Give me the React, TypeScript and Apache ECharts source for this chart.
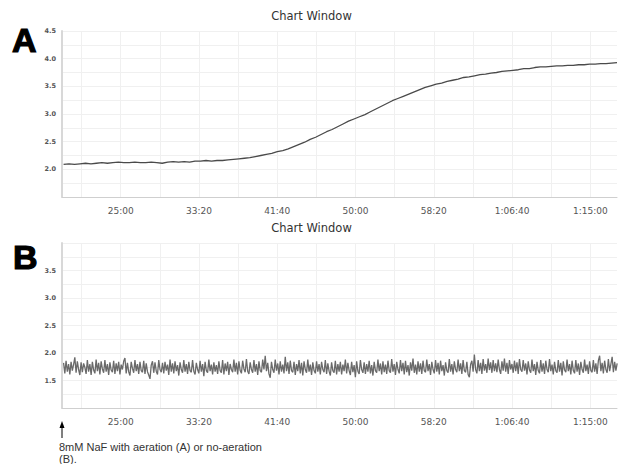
import React, { useEffect, useRef } from "react";
import * as echarts from "echarts";

const TITLE = "Chart Window";
const PANEL_LETTERS = ["A", "B"];
const NOTE_LINES = ["8mM NaF with aeration (A) or no-aeration", "(B)."];

const X_MIN = 1125;
const X_MAX = 4670;
const xGridTicks = [1250, 1500, 1750, 2000, 2250, 2500, 2750, 3000, 3250, 3500, 3750, 4000, 4250, 4500];
const xLabelTicks = [1500, 2000, 2500, 3000, 3500, 4000, 4500];

const yRangeA = [1.5, 4.5];
const yRangeB = [1.0, 4.0];
const yGridTicksA = [1.5, 1.75, 2.0, 2.25, 2.5, 2.75, 3.0, 3.25, 3.5, 3.75, 4.0, 4.25, 4.5];
const yGridTicksB = [1.0, 1.25, 1.5, 1.75, 2.0, 2.25, 2.5, 2.75, 3.0, 3.25, 3.5, 3.75, 4.0];
const yLabelTicksA = [2.0, 2.5, 3.0, 3.5, 4.0, 4.5];
const yLabelTicksB = [1.5, 2.0, 2.5, 3.0, 3.5];

// sampling grid (seconds)
const SAMPLE_START_A = 1135;
const SAMPLE_STEP_A = 35;
const SAMPLE_START_B = 1135;
const SAMPLE_STEP_B = 8;

const valuesA = [
  2.09, 2.10, 2.09, 2.10, 2.11, 2.10, 2.11, 2.12, 2.11, 2.12,
  2.13, 2.12, 2.12, 2.13, 2.12, 2.12, 2.13, 2.12, 2.11, 2.13,
  2.14, 2.13, 2.14, 2.13, 2.15, 2.15, 2.16, 2.15, 2.16, 2.16,
  2.17, 2.18, 2.19, 2.20, 2.21, 2.23, 2.25, 2.27, 2.29, 2.32,
  2.34, 2.37, 2.41, 2.45, 2.49, 2.54, 2.58, 2.63, 2.68, 2.72,
  2.77, 2.82, 2.87, 2.91, 2.95, 2.99, 3.04, 3.09, 3.14, 3.19,
  3.24, 3.28, 3.32, 3.36, 3.40, 3.44, 3.48, 3.51, 3.54, 3.56,
  3.59, 3.61, 3.63, 3.66, 3.67, 3.69, 3.71, 3.72, 3.74, 3.75,
  3.77, 3.78, 3.79, 3.80, 3.82, 3.82, 3.84, 3.85, 3.85, 3.86,
  3.87, 3.87, 3.88, 3.88, 3.89, 3.89, 3.90, 3.90, 3.91, 3.91,
  3.92, 3.93,
];

const valuesB = [
  1.82, 1.63, 1.86, 1.66, 1.80, 1.61, 1.84, 1.68, 1.79, 1.92, 1.64, 1.85, 1.70, 1.60, 1.83, 1.65, 1.81, 1.74, 1.62, 1.87,
  1.66, 1.80, 1.60, 1.84, 1.69, 1.63, 1.88, 1.67, 1.82, 1.61, 1.85, 1.71, 1.64, 1.87, 1.66, 1.80, 1.60, 1.83, 1.69, 1.65,
  1.86, 1.62, 1.81, 1.67, 1.84, 1.61, 1.79, 1.70, 1.85, 1.91, 1.63, 1.82, 1.66, 1.59, 1.84, 1.72, 1.64, 1.87, 1.67, 1.80,
  1.62, 1.84, 1.68, 1.65, 1.86, 1.62, 1.81, 1.66, 1.60, 1.53, 1.78, 1.85, 1.64, 1.83, 1.67, 1.61, 1.87, 1.70, 1.65, 1.82,
  1.63, 1.84, 1.68, 1.79, 1.60, 1.88, 1.66, 1.81, 1.63, 1.85, 1.67, 1.78, 1.59, 1.83, 1.70, 1.64, 1.87, 1.66, 1.80, 1.62,
  1.84, 1.68, 1.65, 1.87, 1.67, 1.61, 1.82, 1.70, 1.63, 1.86, 1.66, 1.80, 1.58, 1.84, 1.68, 1.64, 1.88, 1.67, 1.79, 1.61,
  1.83, 1.66, 1.78, 1.62, 1.85, 1.68, 1.64, 1.87, 1.61, 1.81, 1.67, 1.84, 1.60, 1.80, 1.70, 1.65, 1.88, 1.66, 1.82, 1.61,
  1.85, 1.68, 1.63, 1.86, 1.71, 1.65, 1.89, 1.67, 1.62, 1.83, 1.70, 1.64, 1.87, 1.66, 1.80, 1.60, 1.85, 1.68, 1.65, 1.88,
  1.70, 1.95, 1.67, 1.82, 1.62, 1.55, 1.84, 1.70, 1.64, 1.88, 1.68, 1.81, 1.61, 1.85, 1.66, 1.79, 1.63, 1.93, 1.67, 1.83,
  1.62, 1.86, 1.68, 1.65, 1.84, 1.60, 1.80, 1.67, 1.87, 1.63, 1.82, 1.59, 1.85, 1.70, 1.64, 1.88, 1.66, 1.79, 1.60, 1.83,
  1.68, 1.63, 1.85, 1.66, 1.80, 1.61, 1.84, 1.70, 1.65, 1.87, 1.62, 1.81, 1.67, 1.59, 1.83, 1.68, 1.64, 1.86, 1.61, 1.80,
  1.66, 1.84, 1.61, 1.79, 1.67, 1.88, 1.63, 1.82, 1.68, 1.60, 1.84, 1.65, 1.78, 1.56, 1.85, 1.67, 1.62, 1.87, 1.70, 1.64,
  1.83, 1.62, 1.80, 1.66, 1.86, 1.63, 1.78, 1.59, 1.84, 1.68, 1.64, 1.88, 1.67, 1.81, 1.61, 1.85, 1.65, 1.79, 1.62, 1.86,
  1.68, 1.64, 1.89, 1.66, 1.80, 1.60, 1.84, 1.70, 1.63, 1.87, 1.67, 1.82, 1.61, 1.86, 1.65, 1.78, 1.59, 1.83, 1.68, 1.90,
  1.64, 1.79, 1.61, 1.85, 1.66, 1.81, 1.62, 1.86, 1.68, 1.65, 1.88, 1.67, 1.80, 1.60, 1.84, 1.70, 1.63, 1.87, 1.66, 1.82,
  1.61, 1.86, 1.67, 1.78, 1.59, 1.83, 1.68, 1.64, 1.89, 1.66, 1.80, 1.61, 1.85, 1.70, 1.65, 1.88, 1.67, 1.81, 1.62, 1.87,
  1.68, 1.65, 1.84, 1.61, 1.56, 1.79, 1.86, 1.66, 1.97, 1.70, 1.63, 1.87, 1.67, 1.82, 1.62, 1.89, 1.68, 1.80, 1.64, 1.90,
  1.69, 1.83, 1.64, 1.87, 1.67, 1.81, 1.65, 1.88, 1.70, 1.62, 1.85, 1.68, 1.90, 1.66, 1.82, 1.62, 1.87, 1.70, 1.80, 1.64,
  1.86, 1.67, 1.83, 1.62, 1.89, 1.70, 1.66, 1.87, 1.68, 1.81, 1.61, 1.85, 1.69, 1.64, 1.88, 1.67, 1.80, 1.60, 1.84, 1.68,
  1.63, 1.87, 1.66, 1.81, 1.62, 1.86, 1.70, 1.65, 1.89, 1.67, 1.79, 1.61, 1.84, 1.68, 1.64, 1.87, 1.66, 1.82, 1.59, 1.85,
  1.69, 1.65, 1.88, 1.67, 1.80, 1.61, 1.86, 1.68, 1.63, 1.87, 1.66, 1.81, 1.60, 1.84, 1.70, 1.64, 1.88, 1.67, 1.79, 1.62,
  1.85, 1.68, 1.65, 1.87, 1.66, 1.81, 1.62, 1.86, 1.95, 1.67, 1.82, 1.63, 1.86, 1.70, 1.64, 1.89, 1.67, 1.80, 1.93, 1.65,
  1.84, 1.68, 1.81,
];

function fmtTime(v: number): string {
  const s = Math.round(v);
  const h = Math.floor(s / 3600);
  const m = Math.floor((s % 3600) / 60);
  const sec = s % 60;
  const ss = String(sec).padStart(2, "0");
  if (h > 0) return `${h}:${String(m).padStart(2, "0")}:${ss}`;
  return `${m}:${ss}`;
}

const FONT = "DejaVu Sans";

function makeX(gridIndex: number) {
  return {
    type: "value",
    gridIndex,
    min: X_MIN,
    max: X_MAX,
    axisLine: { show: true, lineStyle: { color: "#cfcfcf", width: 1 } },
    axisTick: { show: false, customValues: xGridTicks },
    splitLine: { show: true, lineStyle: { color: "#f0f0f0", width: 1 } },
    axisLabel: {
      customValues: xLabelTicks,
      formatter: (v: number) => fmtTime(v),
      color: "#555",
      fontFamily: FONT,
      fontSize: 9,
      margin: 9,
    },
  };
}

function makeY(gridIndex: number, range: number[], gridTicks: number[], labelTicks: number[]) {
  return {
    type: "value",
    gridIndex,
    min: range[0],
    max: range[1],
    axisLine: { show: true, lineStyle: { color: "#d8d8d8", width: 2 } },
    axisTick: { show: false, customValues: gridTicks },
    splitLine: { show: true, lineStyle: { color: "#f0f0f0", width: 1 } },
    axisLabel: {
      customValues: labelTicks,
      formatter: (v: number) => v.toFixed(1),
      color: "#555",
      fontFamily: FONT,
      fontSize: 6.5,
      fontWeight: "bold",
      margin: 6,
    },
  };
}

export default function App() {
  const ref = useRef<HTMLDivElement>(null);
  useEffect(() => {
    if (!ref.current) return;
    const chart = echarts.init(ref.current, undefined, { renderer: "svg" });
    const dataA = valuesA.map((v, i) => [SAMPLE_START_A + i * SAMPLE_STEP_A, v]);
    const dataB = valuesB.map((v, i) => [SAMPLE_START_B + i * SAMPLE_STEP_B, v]);
    const titleStyle = { color: "#333", fontFamily: FONT, fontSize: 11.5, fontWeight: "normal" };
    chart.setOption({
      animation: false,
      backgroundColor: "#fff",
      title: [
        { text: TITLE, left: "center", top: 10, textStyle: titleStyle, padding: 0 },
        { text: TITLE, left: "center", top: 222, textStyle: titleStyle, padding: 0 },
      ],
      grid: [
        { left: 62, right: 6, top: 31, height: 166 },
        { left: 62, right: 6, top: 243, height: 165 },
      ],
      xAxis: [makeX(0), makeX(1)],
      yAxis: [
        makeY(0, yRangeA, yGridTicksA, yLabelTicksA),
        makeY(1, yRangeB, yGridTicksB, yLabelTicksB),
      ],
      series: [
        {
          type: "line",
          xAxisIndex: 0,
          yAxisIndex: 0,
          data: dataA,
          showSymbol: false,
          lineStyle: { color: "#4a4a4a", width: 1.3 },
          silent: true,
        },
        {
          type: "line",
          xAxisIndex: 1,
          yAxisIndex: 1,
          data: dataB,
          showSymbol: false,
          lineStyle: { color: "#6a6a6a", width: 1.3 },
          silent: true,
        },
      ],
      graphic: [
        {
          type: "text",
          x: 12,
          y: 40,
          style: {
            text: PANEL_LETTERS[0],
            font: "900 34px 'Liberation Sans'",
            fill: "#000",
            stroke: "#000",
            lineWidth: 1.2,
            verticalAlign: "middle",
          },
        },
        {
          type: "text",
          x: 13,
          y: 257,
          style: {
            text: PANEL_LETTERS[1],
            font: "900 34px 'Liberation Sans'",
            fill: "#000",
            stroke: "#000",
            lineWidth: 1.2,
            verticalAlign: "middle",
          },
        },
        {
          type: "line",
          shape: { x1: 62, y1: 426, x2: 62, y2: 438 },
          style: { stroke: "#000", lineWidth: 1 },
        },
        {
          type: "polygon",
          shape: { points: [[62, 421], [59.5, 428], [64.5, 428]] },
          style: { fill: "#000" },
        },
        {
          type: "text",
          x: 59,
          y: 447,
          style: {
            text: NOTE_LINES[0],
            font: "11px 'Liberation Sans'",
            fill: "#333",
            verticalAlign: "middle",
          },
        },
        {
          type: "text",
          x: 59,
          y: 459,
          style: {
            text: NOTE_LINES[1],
            font: "11px 'Liberation Sans'",
            fill: "#333",
            verticalAlign: "middle",
          },
        },
      ],
    });
    return () => chart.dispose();
  }, []);
  return (
    <div
      ref={ref}
      style={{ position: "absolute", left: 0, top: 0, width: 623, height: 464 }}
    />
  );
}
